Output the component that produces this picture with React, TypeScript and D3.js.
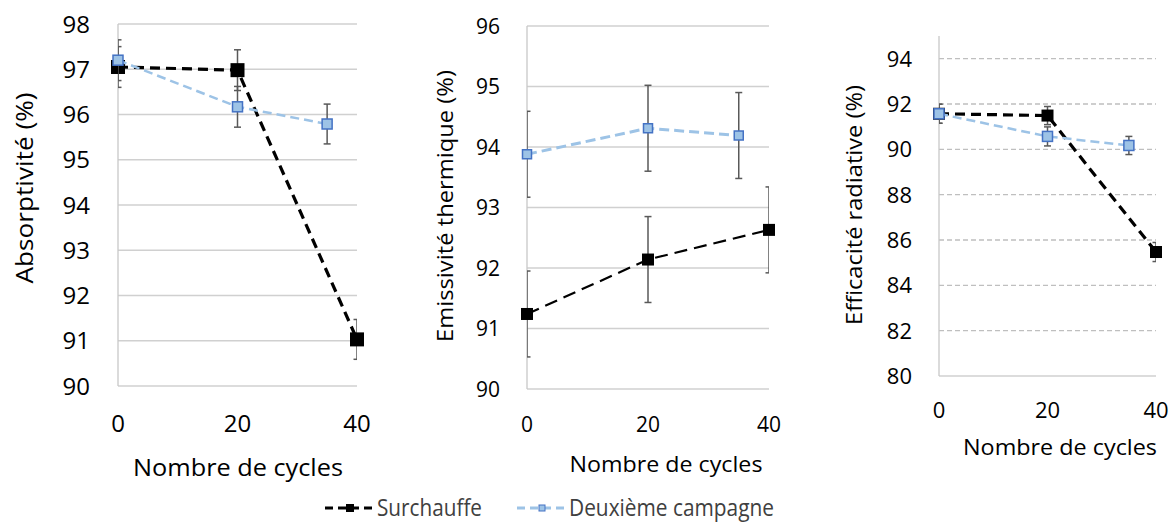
import React from "react";
import * as d3 from "d3";

// cycles (x values)
const cyclesSurchauffe = [0, 20, 40];
const cyclesCampagne = [0, 20, 35];
const xTicks = [0, 20, 40];

// Absorptivité (%)
const absSurchauffe = [97.05, 96.98, 91.03];
const absSurchauffeErr = [0.45, 0.45, 0.44];
const absCampagne = [97.2, 96.17, 95.79];
const absCampagneErr = [0.45, 0.45, 0.44];

// Emissivité thermique (%)
const emiSurchauffe = [91.24, 92.14, 92.63];
const emiSurchauffeErr = [0.71, 0.71, 0.71];
const emiCampagne = [93.88, 94.31, 94.19];
const emiCampagneErr = [0.71, 0.71, 0.71];

// Efficacité radiative (%)
const effSurchauffe = [91.57, 91.49, 85.47];
const effSurchauffeErr = [0.42, 0.4, 0.42];
const effCampagne = [91.57, 90.57, 90.17];
const effCampagneErr = [0.42, 0.42, 0.4];

const seriesNames = ["Surchauffe", "Deuxième campagne"];
const FONT = "'Open Sans', 'Noto Sans', sans-serif";
const BLUE_LINE = "#9dc3e6";
const BLUE_EDGE = "#4472c4";

type PanelCfg = {
  id: string;
  left: number; right: number; top: number; bottom: number;
  yDomain: [number, number];
  yTicks: number[];
  axisTop: number;
  dashedGrid: boolean;
  tickFont: number; tickRight: number; xTickBase: number;
  xTitleX: number; xTitleBase: number; xTitleLen: number;
  yTitle: string; yTitleX: number; yTitleY: number; yTitleLen: number; titleFont: number;
  s1: number[]; e1: number[]; s2: number[]; e2: number[];
  blackSize: number; blueSize: number; blackWidth: number; blueWidth: number;
  blackDash: string; blueDash: string;
};

const panels: PanelCfg[] = [
  {
    id: "p1", left: 118, right: 357, top: 24, bottom: 386, yDomain: [90, 98],
    yTicks: d3.range(90, 99, 1), axisTop: 98, dashedGrid: false,
    tickFont: 24, tickRight: 90, xTickBase: 432,
    xTitleX: 238, xTitleBase: 476, xTitleLen: 210,
    yTitle: "Absorptivité (%)", yTitleX: 33, yTitleY: 188, yTitleLen: 191, titleFont: 24,
    s1: absSurchauffe, e1: absSurchauffeErr, s2: absCampagne, e2: absCampagneErr,
    blackSize: 14, blueSize: 10, blackWidth: 3.2, blueWidth: 2.5,
    blackDash: "10,6", blueDash: "9,5",
  },
  {
    id: "p2", left: 527, right: 769, top: 26, bottom: 389, yDomain: [90, 96],
    yTicks: d3.range(90, 97, 1), axisTop: 96, dashedGrid: false,
    tickFont: 21, tickRight: 500, xTickBase: 432,
    xTitleX: 666, xTitleBase: 472, xTitleLen: 193,
    yTitle: "Emissivité thermique (%)", yTitleX: 453, yTitleY: 206, yTitleLen: 272, titleFont: 21,
    s1: emiSurchauffe, e1: emiSurchauffeErr, s2: emiCampagne, e2: emiCampagneErr,
    blackSize: 12, blueSize: 9, blackWidth: 2.2, blueWidth: 3,
    blackDash: "13,7", blueDash: "10,5",
  },
  {
    id: "p3", left: 939, right: 1156, top: 36, bottom: 376, yDomain: [80, 95],
    yTicks: d3.range(80, 95, 2), axisTop: 95, dashedGrid: true,
    tickFont: 22, tickRight: 912, xTickBase: 418,
    xTitleX: 1060, xTitleBase: 455, xTitleLen: 194,
    yTitle: "Efficacité radiative (%)", yTitleX: 862, yTitleY: 205, yTitleLen: 240, titleFont: 22,
    s1: effSurchauffe, e1: effSurchauffeErr, s2: effCampagne, e2: effCampagneErr,
    blackSize: 12, blueSize: 10, blackWidth: 3.2, blueWidth: 2.5,
    blackDash: "10,6", blueDash: "9,5",
  },
];

function Panel({ p }: { p: PanelCfg }) {
  const x = d3.scaleLinear([0, 40], [p.left, p.right]);
  const y = d3.scaleLinear(p.yDomain, [p.bottom, p.top]);
  const line = d3.line<[number, number]>((d) => x(d[0]), (d) => y(d[1]));
  const pts1 = cyclesSurchauffe.map((c, i) => [c, p.s1[i]] as [number, number]);
  const pts2 = cyclesCampagne.map((c, i) => [c, p.s2[i]] as [number, number]);
  const cap = 3.5;

  const errBars = (pts: [number, number][], err: number[]) =>
    pts.map((d, i) => {
      const cx = x(d[0]);
      const y1 = y(d[1] + err[i]);
      const y0 = y(d[1] - err[i]);
      return (
        <g key={i} stroke="#595959" strokeWidth={1.5} fill="none">
          <line x1={cx} x2={cx} y1={y1} y2={y0} />
          <line x1={cx - cap} x2={cx + cap} y1={y1} y2={y1} />
          <line x1={cx - cap} x2={cx + cap} y1={y0} y2={y0} />
        </g>
      );
    });

  return (
    <g fontFamily={FONT}>
      <defs>
        <clipPath id={`clip-${p.id}`}>
          <rect x={p.left} y={y(p.axisTop) - 2} width={p.right - p.left} height={p.bottom - y(p.axisTop) + 4} />
        </clipPath>
      </defs>
      {p.yTicks.map((t) => (
        <line key={t} x1={p.left} x2={p.right} y1={y(t)} y2={y(t)}
          stroke={p.dashedGrid && t !== p.yDomain[0] ? "#bfbfbf" : "#d0d0d0"}
          strokeWidth={1.3}
          strokeDasharray={p.dashedGrid && t !== p.yDomain[0] ? "5,3" : undefined} />
      ))}
      <line x1={p.left} x2={p.left} y1={y(p.axisTop)} y2={p.bottom} stroke="#c8c8c8" strokeWidth={1.3} />
      {p.yTicks.map((t) => (
        <text key={t} x={p.tickRight} y={y(t)} dy="0.36em" textAnchor="end" fontSize={p.tickFont} fill="#000">{t}</text>
      ))}
      {xTicks.map((t) => (
        <text key={t} x={x(t)} y={p.xTickBase} textAnchor="middle" fontSize={p.tickFont} fill="#000">{t}</text>
      ))}
      <text x={p.xTitleX} y={p.xTitleBase} textAnchor="middle" fontSize={p.titleFont}
        textLength={p.xTitleLen} lengthAdjust="spacingAndGlyphs" fill="#000">Nombre de cycles</text>
      <text transform={`translate(${p.yTitleX},${p.yTitleY}) rotate(-90)`} textAnchor="middle" fontSize={p.titleFont}
        textLength={p.yTitleLen} lengthAdjust="spacingAndGlyphs" fill="#000">{p.yTitle}</text>

      {/* Surchauffe */}
      <g clipPath={`url(#clip-${p.id})`}>{errBars(pts1, p.e1)}</g>
      <path d={line(pts1) ?? ""} fill="none" stroke="#000" strokeWidth={p.blackWidth} strokeDasharray={p.blackDash} />
      {pts1.map((d, i) => (
        <rect key={i} x={x(d[0]) - p.blackSize / 2} y={y(d[1]) - p.blackSize / 2}
          width={p.blackSize} height={p.blackSize} fill="#000" />
      ))}

      {/* Deuxième campagne */}
      <g clipPath={`url(#clip-${p.id})`}>{errBars(pts2, p.e2)}</g>
      <path d={line(pts2) ?? ""} fill="none" stroke={BLUE_LINE} strokeWidth={p.blueWidth} strokeDasharray={p.blueDash} />
      {pts2.map((d, i) => (
        <rect key={i} x={x(d[0]) - p.blueSize / 2} y={y(d[1]) - p.blueSize / 2}
          width={p.blueSize} height={p.blueSize} fill={BLUE_LINE} stroke={BLUE_EDGE} strokeWidth={1.5} />
      ))}
    </g>
  );
}

export default function App() {
  return (
    <svg width={1175} height={522} style={{ position: "absolute", left: 0, top: 0, background: "#fff" }}>
      <rect width={1175} height={522} fill="#fff" />
      {panels.map((p) => <Panel key={p.id} p={p} />)}
      <g fontFamily={FONT}>
        <line x1={325} x2={375} y1={508} y2={508} stroke="#000" strokeWidth={3} strokeDasharray="8,5" />
        <rect x={346} y={504} width={8} height={8} fill="#000" />
        <text x={377} y={516} fontSize={24} fill="#404040" textLength={105} lengthAdjust="spacingAndGlyphs">{seriesNames[0]}</text>
        <line x1={517} x2={567} y1={508} y2={508} stroke={BLUE_LINE} strokeWidth={3} strokeDasharray="8,5" />
        <rect x={539} y={505} width={6} height={6} fill={BLUE_LINE} stroke={BLUE_EDGE} strokeWidth={1} />
        <text x={569} y={516} fontSize={24} fill="#404040" textLength={205} lengthAdjust="spacingAndGlyphs">{seriesNames[1]}</text>
      </g>
    </svg>
  );
}
